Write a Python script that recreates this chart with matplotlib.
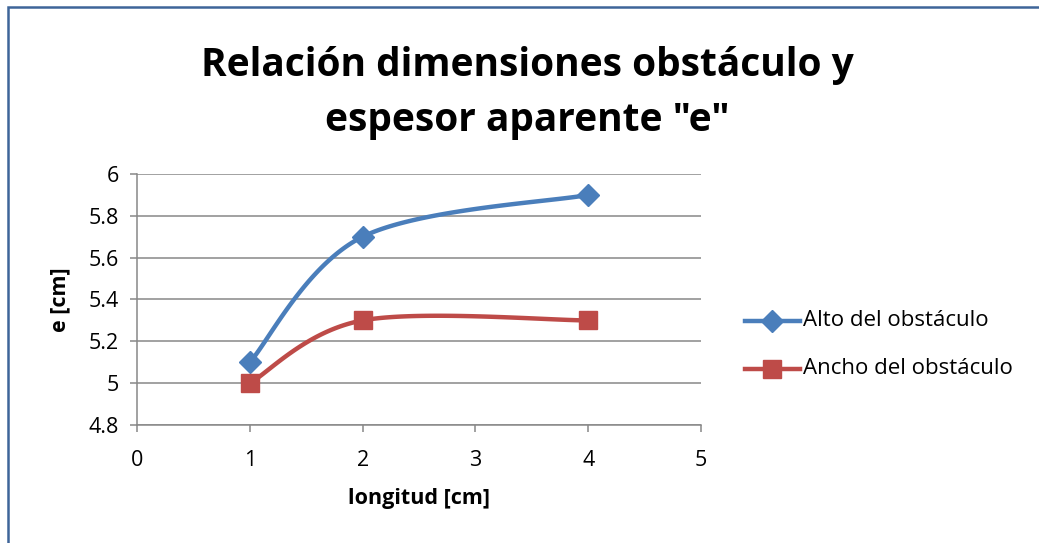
import numpy as np
import matplotlib
matplotlib.use("Agg")
import matplotlib.pyplot as plt
from matplotlib.patches import Rectangle

plt.rcParams['font.family'] = ['Open Sans', 'DejaVu Sans']

# data
longitud = [1, 2, 4]
alto = [5.1, 5.7, 5.9]
ancho = [5.0, 5.3, 5.3]
series_names = ["Alto del obstáculo", "Ancho del obstáculo"]
title = 'Relación dimensiones obstáculo y\nespesor aparente "e"'

BLUE = "#4A7EBB"
RED = "#BE4B48"
GRID = "#888888"
LW = 3.2


def smooth(ax, xs, ys, n=60):
    # Catmull-Rom style bezier in display space (like spreadsheet smoothing)
    pts = ax.transData.transform(np.column_stack([xs, ys]))
    p = np.vstack([pts[0], pts, pts[-1]])
    out = []
    for i in range(1, len(p) - 2):
        p0, p1, p2, p3 = p[i - 1], p[i], p[i + 1], p[i + 2]
        c1 = p1 + (p2 - p0) / 6.0
        c2 = p2 - (p3 - p1) / 6.0
        t = np.linspace(0, 1, n)[:, None]
        seg = ((1 - t) ** 3) * p1 + 3 * ((1 - t) ** 2) * t * c1 + 3 * (1 - t) * t ** 2 * c2 + t ** 3 * p2
        out.append(seg if i == 1 else seg[1:])
    curve = np.vstack(out)
    back = ax.transData.inverted().transform(curve)
    return back[:, 0], back[:, 1]


fig = plt.figure(figsize=(10.39, 5.43), dpi=100)
ax = fig.add_axes([137 / 1039, 1 - 425 / 543, (701 - 137) / 1039, (425 - 174) / 543])

ax.set_xlim(0, 5)
ax.set_ylim(4.8, 6.0)
ax.set_xticks(range(0, 6))
ax.set_yticks([4.8, 5.0, 5.2, 5.4, 5.6, 5.8, 6.0])
ax.set_yticklabels(["4.8", "5", "5.2", "5.4", "5.6", "5.8", "6"])
ax.yaxis.grid(True, color=GRID, linewidth=1.1)
ax.set_axisbelow(True)
for side in ["top", "right"]:
    ax.spines[side].set_visible(False)
for side in ["left", "bottom"]:
    ax.spines[side].set_color(GRID)
    ax.spines[side].set_linewidth(1.1)
ax.tick_params(axis="both", colors=GRID, length=5, width=1.1, labelsize=15.5, labelcolor="black")
ax.tick_params(axis="x", pad=13)
ax.tick_params(axis="y", pad=8)

fig.canvas.draw()
xa, ya = smooth(ax, longitud, alto)
xb, yb = smooth(ax, longitud, ancho)
ax.plot(xa, ya, color=BLUE, linewidth=LW, solid_capstyle="round", zorder=3)
ax.plot(xb, yb, color=RED, linewidth=LW, solid_capstyle="round", zorder=3)
ax.plot(longitud, alto, linestyle="none", marker="D", markersize=11, color=BLUE, zorder=4)
ax.plot(longitud, ancho, linestyle="none", marker="s", markersize=13, color=RED, zorder=4)

ax.set_xlabel("longitud [cm]", fontsize=15.5, fontweight="bold", labelpad=12)
ax.set_ylabel("e [cm]", fontsize=15.5, fontweight="bold", labelpad=13)

fig.text(527 / 1039, 1 - 93 / 543, title, ha="center", va="center", fontsize=28,
         fontweight="bold", linespacing=1.55)

# legend drawn by hand so the marker sits on the line segment
for i, (name, col, mk, ms) in enumerate(zip(series_names, [BLUE, RED], ["D", "s"], [11, 13])):
    yf = 1 - (321 + 48 * i) / 543
    fig.add_artist(plt.Line2D([745 / 1039, 800 / 1039], [yf, yf], color=col, linewidth=LW,
                              transform=fig.transFigure))
    fig.add_artist(plt.Line2D([772 / 1039], [yf], marker=mk, markersize=ms, color=col,
                              linestyle="none", transform=fig.transFigure))
    fig.text(803 / 1039, yf, name, ha="left", va="center", fontsize=16)

# chart frame
fig.add_artist(Rectangle((8 / 1039, -0.1), 1.2, 1 - 7 / 543 + 0.1, transform=fig.transFigure,
                         fill=False, edgecolor="#3E6599", linewidth=1.8))

fig.savefig("out.png", dpi=100)
